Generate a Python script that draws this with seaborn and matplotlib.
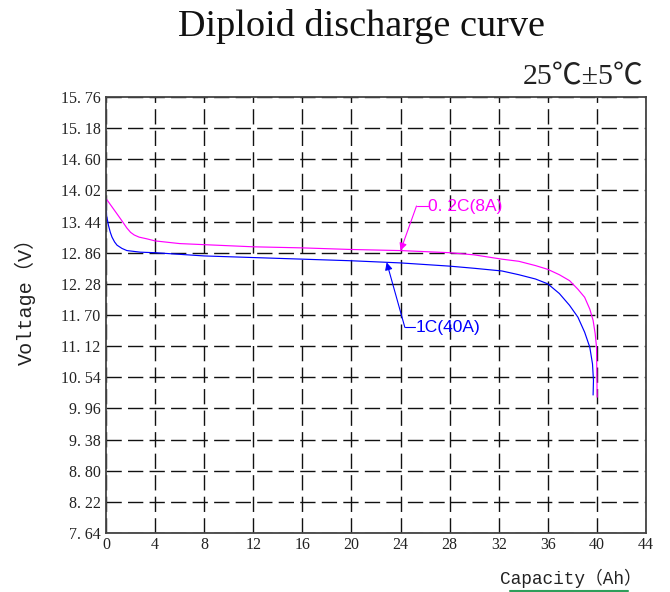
import matplotlib
matplotlib.use("Agg")
import matplotlib.pyplot as plt
from matplotlib.lines import Line2D
import seaborn as sns
import pandas as pd

# ---- data ----
cap_02c = [0, 0.5, 1.0, 1.4, 1.7, 2.0, 2.3, 2.7, 3.3, 4.0, 6.0, 8.0, 10.0, 12.0,
           16.0, 20.0, 24.0, 28.0, 30.0, 32.26, 33.64, 35.0, 36.0, 36.94, 37.77, 38.45,
           39.0, 39.42, 39.69, 39.86, 39.97, 40.02]
volt_02c = [13.87, 13.71, 13.55, 13.42, 13.32, 13.24, 13.19, 13.15, 13.12, 13.08,
            13.03, 13.01, 12.99, 12.97, 12.95, 12.92, 12.90, 12.86, 12.82, 12.74, 12.70,
            12.62, 12.55, 12.45, 12.34, 12.18, 12.03, 11.81, 11.60, 11.35, 11.10, 10.17]

cap_1c = [0, 0.05, 0.2, 0.35, 0.49, 0.7, 0.9, 1.3, 1.7, 2.8, 4.0, 8.0, 12.0, 16.0, 20.0,
          24.0, 28.0, 30.0, 32.26, 33.64, 35.0, 36.0, 36.94, 37.77, 38.45, 39.0, 39.42,
          39.64, 39.72, 39.69]
volt_1c = [13.87, 13.55, 13.37, 13.24, 13.15, 13.06, 13.00, 12.94, 12.90, 12.87, 12.86,
           12.80, 12.77, 12.74, 12.71, 12.67, 12.61, 12.57, 12.52, 12.45, 12.37, 12.28,
           12.10, 11.88, 11.66, 11.38, 11.10, 10.79, 10.48, 10.21]

x_ticks = [0, 4, 8, 12, 16, 20, 24, 28, 32, 36, 40, 44]
y_ticks = [7.64, 8.22, 8.80, 9.38, 9.96, 10.54, 11.12, 11.70, 12.28, 12.86, 13.44,
           14.02, 14.60, 15.18, 15.76]
y_tick_labels = ["7. 64", "8. 22", "8. 80", "9. 38", "9. 96", "10. 54", "11. 12",
                 "11. 70", "12. 28", "12. 86", "13. 44", "14. 02", "14. 60", "15. 18",
                 "15. 76"]

series_labels = ["0. 2C(8A)", "1C(40A)"]
title = "Diploid discharge curve"
temp_text = "25\u2103\u00b15\u2103"
x_label = "Capacity\uff08Ah\uff09"
y_label = "Voltage\uff08V\uff09"

# ---- drawing ----
sns.set_theme(style="white")
plt.rcParams["font.family"] = ["Liberation Serif", "Noto Sans CJK SC", "DejaVu Sans"]

fig = plt.figure(figsize=(6.7, 5.92), dpi=100)
W, H = 670, 592
ax = fig.add_axes([106 / W, (H - 533) / H, 540 / W, 436 / H])

df02 = pd.DataFrame({"cap": cap_02c, "v": volt_02c})
df1 = pd.DataFrame({"cap": cap_1c, "v": volt_1c})
sns.lineplot(data=df02, x="cap", y="v", color="#ff00ff", lw=0.85, sort=False,
             estimator=None, ax=ax)
sns.lineplot(data=df1, x="cap", y="v", color="#0000ff", lw=0.85, sort=False,
             estimator=None, ax=ax)

ax.set_xlim(0, 44)
ax.set_ylim(7.64, 15.76)
ax.set_xticks(x_ticks)
ax.set_xticklabels([str(t) for t in x_ticks])
ax.set_yticks(y_ticks)
ax.set_yticklabels(y_tick_labels)
ax.set_xlabel("")
ax.set_ylabel("")
ax.tick_params(length=0, labelsize=11.5, colors="#222222")
ax.tick_params(axis="y", pad=4)
ax.tick_params(axis="x", pad=3)
for lab in ax.get_xticklabels() + ax.get_yticklabels():
    lab.set_family("Liberation Serif")

ax.grid(True, color="#111111", lw=1.0, linestyle=(0, (11, 4.5)))
for sp in ax.spines.values():
    sp.set_color("#444444")
    sp.set_linewidth(1.3)
    sp.set_visible(True)

# annotations
# 0.2C
ax.annotate("", xy=(24.0, 12.90), xytext=(25.3, 13.73),
            arrowprops=dict(arrowstyle="-|>", color="#ff00ff", lw=0.8,
                            mutation_scale=11, shrinkA=0, shrinkB=0))
ax.plot([25.3, 26.2], [13.73, 13.73], color="#ff00ff", lw=0.8)
ax.text(26.2, 13.73, series_labels[0], color="#ff00ff", va="center", ha="left",
        fontsize=12.5, family=["Liberation Sans"])
# 1C
ax.annotate("", xy=(22.87, 12.68), xytext=(24.35, 11.47),
            arrowprops=dict(arrowstyle="-|>", color="#0000ff", lw=0.8,
                            mutation_scale=11, shrinkA=0, shrinkB=0))
ax.plot([24.35, 25.2], [11.47, 11.47], color="#0000ff", lw=0.8)
ax.text(25.2, 11.47, series_labels[1], color="#0000ff", va="center", ha="left",
        fontsize=12.5, family=["Liberation Sans"])

# texts
fig.text(361.5 / W, 1 - 27 / H, title, ha="center", va="center", fontsize=27.5,
         family=["Liberation Serif"], color="#111111")
fig.text(643 / W, 1 - 77 / H, temp_text, ha="right", va="center", fontsize=21.5,
         family=["Liberation Serif", "Noto Sans CJK SC"], color="#222222")
fig.text(500 / W, 1 - 578 / H, x_label, ha="left", va="center", fontsize=12.8,
         family=["Liberation Mono", "Noto Sans CJK SC"], color="#222222")
fig.add_artist(Line2D([510 / W, 628 / W], [1.2 / H, 1.2 / H], color="#2e9e5b", lw=1.5,
                      transform=fig.transFigure))
fig.text(25 / W, 1 - 296 / H, y_label, ha="center", va="center", rotation=90,
         fontsize=14.5, family=["Liberation Mono", "Noto Sans CJK SC"], color="#222222")

fig.savefig("out.png", dpi=100)
